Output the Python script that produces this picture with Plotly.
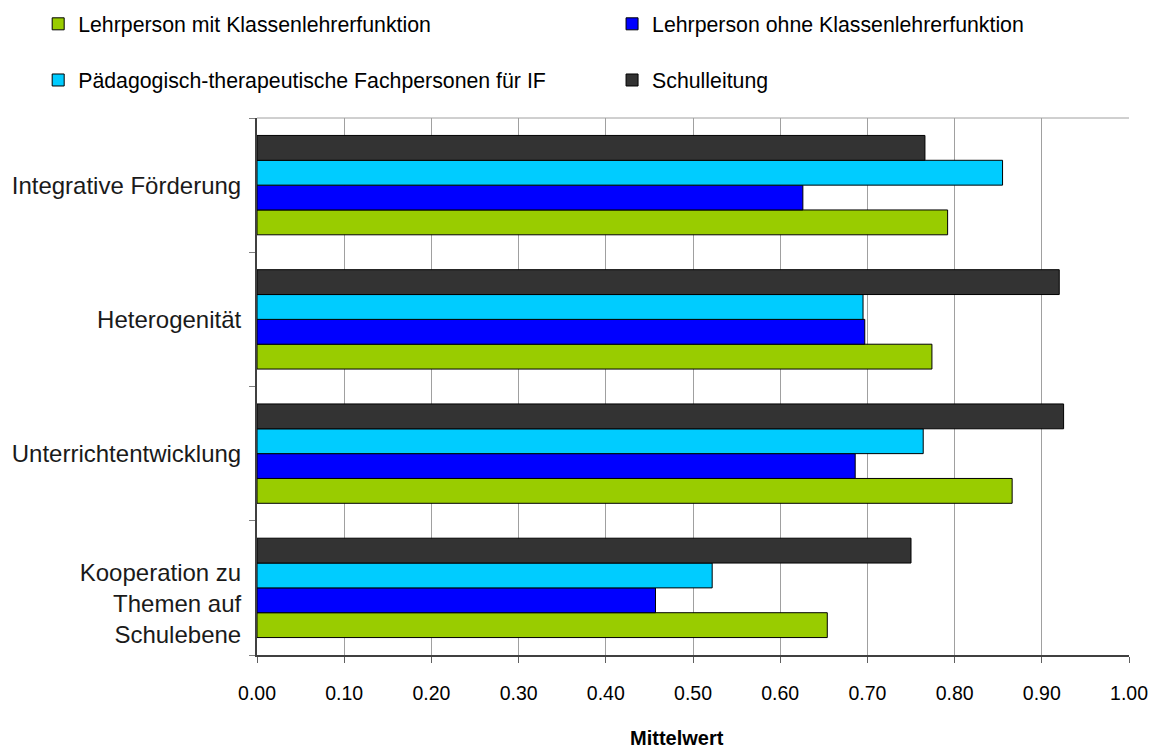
import plotly.graph_objects as go

# Themenbereiche (von unten nach oben gezeichnet)
categories = [
    "Kooperation zu Themen auf Schulebene",
    "Unterrichtentwicklung",
    "Heterogenität",
    "Integrative Förderung",
]
category_labels = [
    "<br>Kooperation zu<br>Themen auf<br>Schulebene",
    "Unterrichtentwicklung",
    "Heterogenität",
    "Integrative Förderung",
]

# Mittelwerte je Personengruppe, in der Reihenfolge der Kategorien oben
mit_klassenlehrer = [0.654, 0.866, 0.774, 0.792]
ohne_klassenlehrer = [0.457, 0.686, 0.697, 0.626]
paed_therapeutisch = [0.522, 0.764, 0.695, 0.855]
schulleitung = [0.750, 0.925, 0.920, 0.766]

x_ticks = [0.0, 0.1, 0.2, 0.3, 0.4, 0.5, 0.6, 0.7, 0.8, 0.9, 1.0]
x_tick_labels = ["0.00", "0.10", "0.20", "0.30", "0.40", "0.50",
                 "0.60", "0.70", "0.80", "0.90", "1.00"]

# Legendeneinträge: eigene Legende je Eintrag, in zwei Zeilen zu je zwei Spalten
series = [
    ("Lehrperson mit Klassenlehrerfunktion", mit_klassenlehrer, "#99CC00", "legend", 0.033, 0.968),
    ("Lehrperson ohne Klassenlehrerfunktion", ohne_klassenlehrer, "#0000FF", "legend2", 0.529, 0.968),
    ("Pädagogisch-therapeutische Fachpersonen für IF", paed_therapeutisch, "#00CCFF", "legend3", 0.033, 0.893),
    ("Schulleitung", schulleitung, "#333333", "legend4", 0.529, 0.893),
]

font_family = "Arial, Liberation Sans, sans-serif"

fig = go.Figure()
legends = {}
for name, values, color, leg, lx, ly in series:
    fig.add_trace(go.Bar(
        y=categories,
        x=values,
        name=name,
        orientation="h",
        marker=dict(color=color, line=dict(color="#000000", width=1)),
        legend=leg,
        showlegend=True,
    ))
    legends[leg] = dict(
        visible=True,
        xref="container",
        yref="container",
        x=lx,
        y=ly,
        xanchor="left",
        yanchor="middle",
        orientation="h",
        itemwidth=30,
        bgcolor="rgba(0,0,0,0)",
        font=dict(family=font_family, size=21.3, color="#000000"),
    )

fig.update_layout(
    width=1157,
    height=749,
    showlegend=True,
    margin=dict(l=257, r=28, t=118, b=94, autoexpand=False),
    paper_bgcolor="#FFFFFF",
    plot_bgcolor="#FFFFFF",
    barmode="group",
    bargap=0.26,
    bargroupgap=0,
    font=dict(family=font_family, size=18, color="#000000"),
    xaxis=dict(
        range=[0, 1],
        tickvals=x_ticks,
        ticktext=x_tick_labels,
        showgrid=True,
        gridcolor="#A0A0A0",
        gridwidth=1,
        zeroline=False,
        showline=True,
        linecolor="#404040",
        linewidth=2,
        ticks="outside",
        ticklen=6,
        tickcolor="#606060",
        ticklabelstandoff=14,
        tickfont=dict(family=font_family, size=19.5, color="#000000"),
    ),
    yaxis=dict(
        categoryorder="array",
        categoryarray=categories,
        tickmode="array",
        tickvals=categories,
        ticktext=category_labels,
        showgrid=False,
        zeroline=False,
        showline=True,
        linecolor="#404040",
        linewidth=2,
        ticks="outside",
        tickson="boundaries",
        ticklen=6,
        tickcolor="#808080",
        ticklabelstandoff=9,
        tickfont=dict(family=font_family, size=24, color="#1a1a1a"),
    ),
    shapes=[
        dict(type="line", xref="paper", yref="paper", x0=0, x1=1, y0=1, y1=1,
             line=dict(color="#A0A0A0", width=1)),
    ],
    annotations=[
        dict(text="<b>Mittelwert</b>", xref="paper", yref="paper",
             x=0.4817, y=-0.1546, xanchor="center", yanchor="middle",
             showarrow=False,
             font=dict(family=font_family, size=20, color="#000000")),
    ],
    **legends,
)

fig.write_html("out.html")
